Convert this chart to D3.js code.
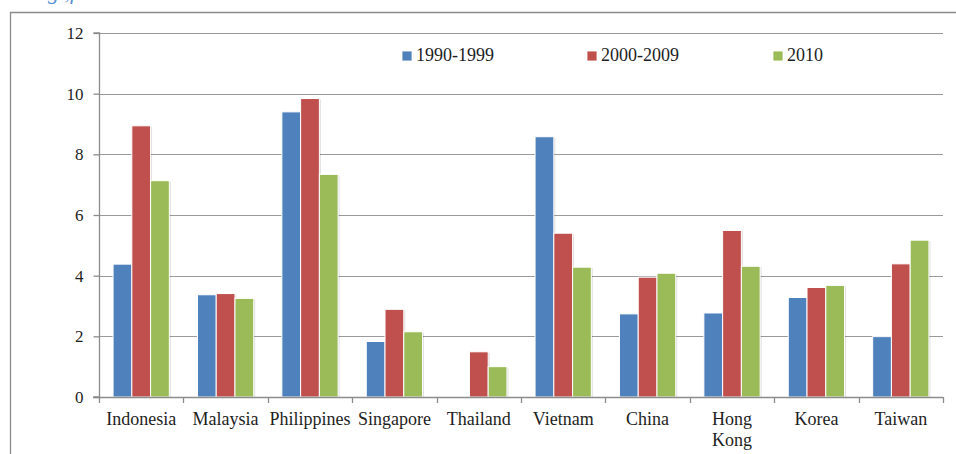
<!DOCTYPE html>
<html>
<head>
<meta charset="utf-8">
<script src="https://cdn.jsdelivr.net/npm/d3@7"></script>
<style>
	html, body { margin: 0; padding: 0; background: #fff; overflow: hidden; }
	svg { display: block; }
</style>
</head>
<body>
<script>
// chart values
const countries = ['Indonesia', 'Malaysia', 'Philippines', 'Singapore', 'Thailand', 'Vietnam', 'China', 'Hong Kong', 'Korea', 'Taiwan'];
const series = ['1990-1999', '2000-2009', '2010'];
const values1990s = [4.38, 3.37, 9.40, 1.83, 0, 8.58, 2.74, 2.77, 3.28, 1.99];
const values2000s = [8.94, 3.41, 9.84, 2.89, 1.49, 5.40, 3.95, 5.49, 3.61, 4.39];
const values2010 = [7.13, 3.25, 7.34, 2.15, 1.0, 4.28, 4.08, 4.31, 3.68, 5.17];
const yTicks = [0, 2, 4, 6, 8, 10, 12];
const colors = ['#4f81bd', '#c0504d', '#9bbb59'];

const width = 956;
const height = 454;
const margin = { top: 33, right: 13, bottom: 57, left: 99 };

const rows = countries.map((c, i) => ({
	name: c,
	vals: [values1990s[i], values2000s[i], values2010[i]],
}));

const svg = d3
	.select('body')
	.append('svg')
	.attr('width', width)
	.attr('height', height)
	.style('font-family', '"Liberation Serif", "Times New Roman", serif');

// outer chart frame (only top and left edges are in view)
svg.append('path')
	.attr('d', `M10.5,${height} V12.5 H${width}`)
	.attr('fill', 'none')
	.attr('stroke', '#8c8c8c')
	.attr('stroke-width', 1.3);

// cut-off caption above the frame
svg.append('text')
	.attr('x', 48)
	.attr('y', -1)
	.attr('fill', '#5b8fd6')
	.style('font-style', 'italic')
	.style('font-size', '22px')
	.text('g  ,f');

const x0 = d3
	.scaleBand()
	.domain(countries)
	.range([margin.left, width - margin.right])
	.paddingInner(0)
	.paddingOuter(0);

const x1 = d3
	.scaleBand()
	.domain(series)
	.range([0, x0.bandwidth()])
	.paddingInner(0)
	.paddingOuter(0.75);

const y = d3
	.scaleLinear()
	.domain([0, 12])
	.range([height - margin.bottom, margin.top]);

// gridlines
svg.append('g')
	.selectAll('line')
	.data(yTicks.slice(1))
	.join('line')
	.attr('x1', margin.left)
	.attr('x2', width - margin.right)
	.attr('y1', (d) => Math.round(y(d)) + 0.5)
	.attr('y2', (d) => Math.round(y(d)) + 0.5)
	.attr('stroke', '#9a9a9a')
	.attr('stroke-width', 1.2);

// bars
const groups = svg
	.append('g')
	.selectAll('g')
	.data(rows)
	.join('g')
	.attr('transform', (d) => `translate(${x0(d.name)},0)`);

groups
	.selectAll('rect.shadow')
	.data((d) => d.vals.map((v, i) => ({ key: series[i], value: v, i })).filter((d) => d.value > 0))
	.join('rect')
	.attr('class', 'shadow')
	.attr('x', (d) => x1(d.key) + 1.5)
	.attr('y', (d) => y(d.value) + 1)
	.attr('width', x1.bandwidth())
	.attr('height', (d) => y(0) - y(d.value))
	.attr('fill', '#000')
	.attr('fill-opacity', 0.12);

groups
	.selectAll('rect.bar')
	.data((d) => d.vals.map((v, i) => ({ key: series[i], value: v, i })).filter((d) => d.value > 0))
	.join('rect')
	.attr('class', 'bar')
	.attr('x', (d) => x1(d.key))
	.attr('y', (d) => y(d.value))
	.attr('width', x1.bandwidth())
	.attr('height', (d) => y(0) - y(d.value))
	.attr('fill', (d) => colors[d.i])
	.attr('stroke', '#fff')
	.attr('stroke-width', 1);

// y axis
const yAxis = svg
	.append('g')
	.attr('transform', `translate(${margin.left + 0.5},0)`)
	.call(d3.axisLeft(y).tickValues(yTicks).tickSize(6).tickPadding(10));
yAxis.select('.domain').attr('stroke', '#8c8c8c').attr('stroke-width', 1.3).attr('d', `M-6,${y(12)}H0V${y(0)}H-6`);
yAxis.selectAll('.tick line').attr('stroke', '#8c8c8c').attr('stroke-width', 1.3);
yAxis.selectAll('.tick text')
	.attr('fill', '#1e1e1e')
	.style('font-size', '17px')
	.style('font-family', '"Liberation Serif", serif');

// x axis with ticks between categories
const xAxis = svg.append('g');
xAxis.append('line')
	.attr('x1', margin.left - 6)
	.attr('x2', width - margin.right)
	.attr('y1', Math.round(y(0)) + 0.5)
	.attr('y2', Math.round(y(0)) + 0.5)
	.attr('stroke', '#8c8c8c')
	.attr('stroke-width', 1.3);
xAxis.selectAll('line.tick')
	.data(countries.map((c) => x0(c)).concat([x0(countries[countries.length - 1]) + x0.bandwidth()]))
	.join('line')
	.attr('class', 'tick')
	.attr('x1', (d) => Math.round(d) + 0.5)
	.attr('x2', (d) => Math.round(d) + 0.5)
	.attr('y1', y(0))
	.attr('y2', y(0) + 6)
	.attr('stroke', '#8c8c8c')
	.attr('stroke-width', 1.3);

const labels = xAxis
	.selectAll('text')
	.data(countries)
	.join('text')
	.attr('x', (d) => x0(d) + x0.bandwidth() / 2)
	.attr('y', y(0) + 28)
	.attr('text-anchor', 'middle')
	.attr('fill', '#1e1e1e')
	.style('font-size', '18px');

labels.each(function (d) {
	const words = d === 'Hong Kong' ? ['Hong', 'Kong'] : [d];
	d3.select(this)
		.selectAll('tspan')
		.data(words)
		.join('tspan')
		.attr('x', x0(d) + x0.bandwidth() / 2)
		.attr('dy', (w, i) => (i === 0 ? 0 : 21))
		.text((w) => w);
});

// legend
const legendX = [402, 587, 773];
const legend = svg
	.append('g')
	.selectAll('g')
	.data(series)
	.join('g')
	.attr('transform', (d, i) => `translate(${legendX[i]},51)`);

legend.append('rect')
	.attr('width', 10)
	.attr('height', 10)
	.attr('fill', (d, i) => colors[i])
	.attr('stroke', '#fff')
	.attr('stroke-width', 0.8);

legend.append('text')
	.attr('x', 14)
	.attr('y', 10)
	.attr('fill', '#1e1e1e')
	.style('font-size', '18px')
	.text((d) => d);
</script>
</body>
</html>
